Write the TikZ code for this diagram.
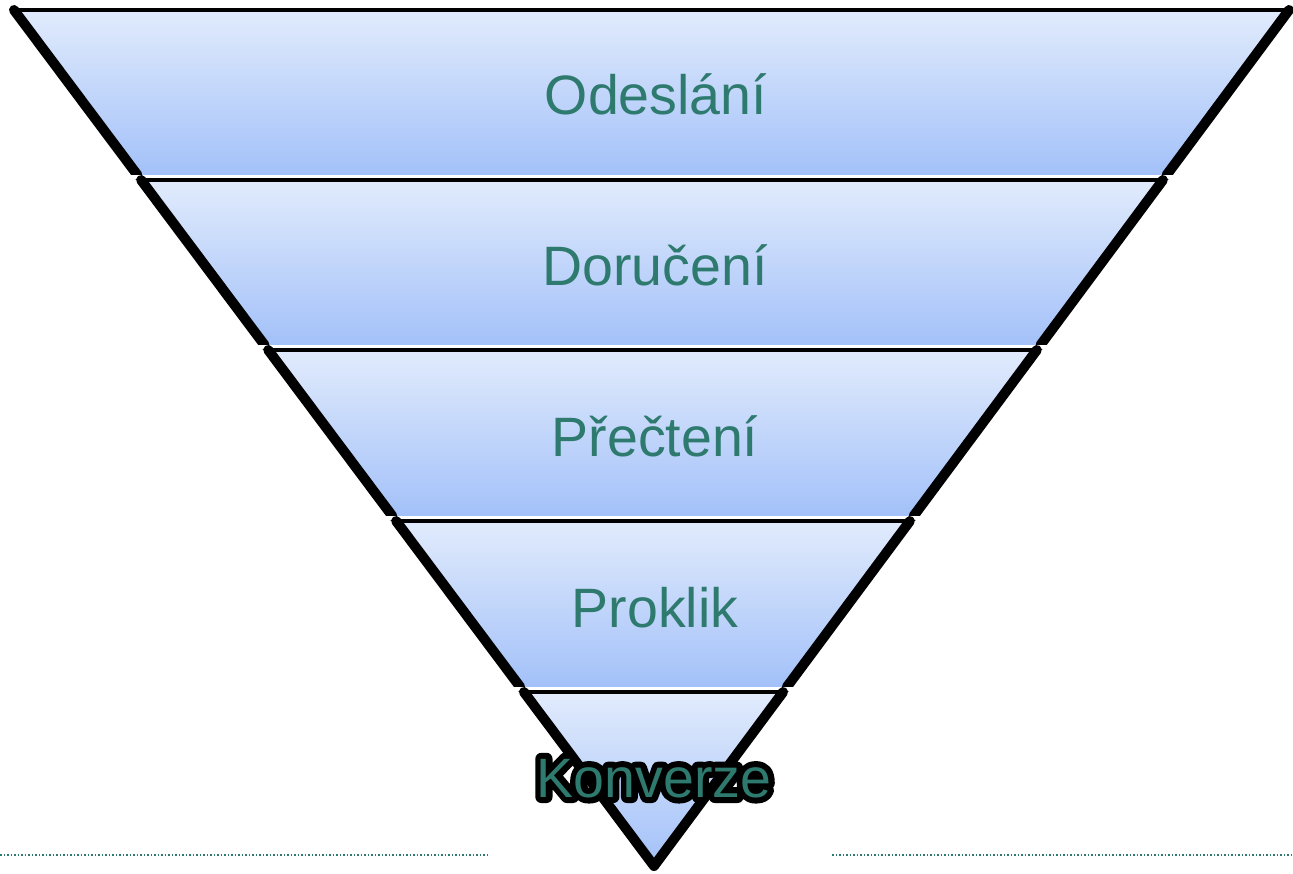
\documentclass[tikz,border=0pt]{standalone}
\usepackage{fontspec}
\setmainfont{Liberation Sans}
\definecolor{txt}{HTML}{2E7A6E}
\definecolor{ftop}{HTML}{E1EBFC}
\definecolor{fbot}{HTML}{A3C1F9}
\newcommand{\glowtext}[1]{\rlap{\special{pdf:literal direct 0 0 0 RG 0 0 0 rg 12 w 1 j 2 Tr}#1\special{pdf:literal direct 0 Tr}}{\color{txt}#1}}
\tikzset{
  band/.style={top color=ftop,bottom color=fbot,draw=none},
  sideedge/.style={line width=10pt,line cap=round,line join=round},
  topedge/.style={line width=3.5pt,line cap=round},
  sepline/.style={white,line width=3.5pt},
  lbl/.style={text=txt,font=\fontsize{55.5}{60}\selectfont,inner sep=0pt,anchor=base},
  guide/.style={txt,dotted,line width=1.5pt}
}
\begin{document}
\begin{tikzpicture}[x=1pt,y=-1pt]
\useasboundingbox (0,0) rectangle (1293,874);
% band 1
\shade[band] (14,10) -- (1289,10) -- (1166.6,175) -- (137.4,175) -- cycle;
\draw[sideedge] (137.4,175) -- (14,10);
\draw[sideedge] (1289,10) -- (1166.6,175);
\draw[topedge] (14,10) -- (1289,10);
% band 2
\draw[sepline] (131,177) -- (1174,177);
\shade[band] (141.1,180) -- (1162.9,180) -- (1040.5,345) -- (264.5,345) -- cycle;
\draw[sideedge] (264.5,345) -- (141.1,180);
\draw[sideedge] (1162.9,180) -- (1040.5,345);
\draw[topedge] (141.1,180) -- (1162.9,180);
% band 3
\draw[sepline] (258,347) -- (1048,347);
\shade[band] (268.2,350) -- (1036.8,350) -- (913.6,516) -- (392.3,516) -- cycle;
\draw[sideedge] (392.3,516) -- (268.2,350);
\draw[sideedge] (1036.8,350) -- (913.6,516);
\draw[topedge] (268.2,350) -- (1036.8,350);
% band 4
\draw[sepline] (386,518) -- (921,518);
\shade[band] (396.1,521) -- (909.9,521) -- (786.8,687) -- (520.2,687) -- cycle;
\draw[sideedge] (520.2,687) -- (396.1,521);
\draw[sideedge] (909.9,521) -- (786.8,687);
\draw[topedge] (396.1,521) -- (909.9,521);
% band 5
\draw[sepline] (514,689) -- (794,689);
\shade[band] (523.9,692) -- (783.1,692) -- (654,866) -- cycle;
\draw[sideedge] (523.9,692) -- (654,866) -- (783.1,692);
\draw[topedge] (523.9,692) -- (783.1,692);
% labels
\node[lbl] (n1) at (656,115) {Odeslání};
\node[lbl] (n2) at (655,286) {Doručení};
\node[lbl] (n3) at (655,456) {Přečtení};
\node[lbl] (n4) at (655,627) {Proklik};
\node[lbl] (n5) at (654,797) {\glowtext{Konverze}};
% guide lines
\draw[guide] (0,855) -- (490,855);
\draw[guide] (832,855) -- (1293,855);
\end{tikzpicture}
\end{document}
